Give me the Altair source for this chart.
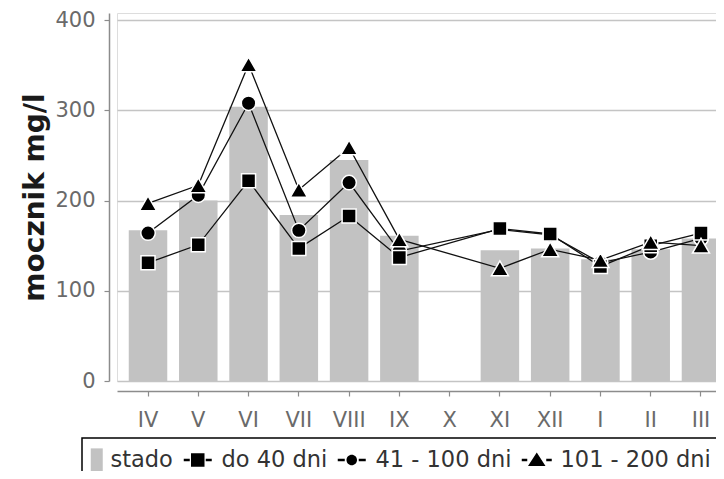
import altair as alt
import pandas as pd

months = ["IV", "V", "VI", "VII", "VIII", "IX", "X", "XI", "XII", "I", "II", "III"]
stado = [167, 200, 304, 184, 245, 161, None, 145, 147, 135, 146, 158]
do_40 = [131, 151, 222, 147, 183, 137, None, 169, 163, 127, 150, 164]
d41_100 = [164, 206, 308, 167, 220, 144, None, 168, 162, 131, 143, 158]
d101_200 = [197, 217, 351, 212, 259, 157, None, 125, 146, 134, 154, 150]
series_names = ["stado", "do 40 dni", "41 - 100 dni", "101 - 200 dni"]
y_ticks = [0, 100, 200, 300, 400]

rows = []
for name, vals in zip(series_names, [stado, do_40, d41_100, d101_200]):
    for m, v in zip(months, vals):
        if v is not None:
            rows.append({"month": m, "series": name, "value": v})
df = pd.DataFrame(rows)

FONT = "DejaVu Sans"

x_enc = alt.X(
    "month:N",
    sort=months,
    scale=alt.Scale(domain=months, range=[0, 615], paddingInner=0.234, paddingOuter=0.234),
    axis=alt.Axis(
        title=None, labelAngle=0, offset=10, domainColor="#8c8c8c", domainWidth=1.5,
        tickColor="#8c8c8c", tickSize=5, tickWidth=1.2, labelFont=FONT, labelFontSize=21,
        labelColor="#6a6a6a", labelPadding=13, grid=False,
    ),
)
y_enc = alt.Y(
    "value:Q",
    scale=alt.Scale(domain=[0, 408], nice=False, zero=True),
    axis=alt.Axis(
        values=y_ticks, title="mocznik mg/l", titleFont=FONT, titleFontSize=28,
        titleFontWeight="bold", titleColor="#1a1a1a", titlePadding=5,
        offset=8, domainColor="#8c8c8c", domainWidth=1.5, tickColor="#8c8c8c",
        tickSize=5, tickWidth=1.2, labelFont=FONT, labelFontSize=21, labelColor="#6a6a6a",
        labelPadding=9, grid=True, gridColor="#c4c4c4", gridWidth=1.5,
    ),
)

base = alt.Chart(df)

bars = base.transform_filter(alt.datum.series == "stado").mark_bar(color="#c2c2c2").encode(x=x_enc, y=y_enc)

lines = base.transform_filter(alt.datum.series != "stado").mark_line(
    color="#111111", strokeWidth=1.3
).encode(x=x_enc, y=y_enc, detail="series:N")

def pts(name, shape, size):
    return base.transform_filter(alt.datum.series == name).mark_point(
        shape=shape, filled=True, fill="black", stroke="white", strokeWidth=1.5,
        size=size, opacity=1,
    ).encode(x=x_enc, y=y_enc)

circles = pts("41 - 100 dni", "circle", 210)
squares = pts("do 40 dni", "square", 196)
triangles = pts("101 - 200 dni", "triangle-up", 290)

legend_paths = [
    "M0.8,-2.3H3.2V2.3H0.8Z",
    "M-2.8,-0.25H-1.6V0.25H-2.8Z M-1.35,-1.35H1.35V1.35H-1.35Z M1.6,-0.25H2.8V0.25H1.6Z",
    "M-2.8,-0.25H-1.4V0.25H-2.8Z M-1.05,0A1.05,1.05 0 1,0 1.05,0A1.05,1.05 0 1,0 -1.05,0Z M1.4,-0.25H2.8V0.25H1.4Z",
    "M-3,-0.25H-1.9V0.25H-3Z M0,-1.5L1.75,1.2H-1.75Z M1.9,-0.25H3V0.25H1.9Z",
]
legend_fills = ["#c2c2c2", "black", "black", "black"]
leg = alt.Legend(
    title=None, orient="none", legendX=-41.5, legendY=435.5, direction="horizontal",
    labelFont=FONT, labelFontSize=22.5, labelColor="#333333", labelOffset=12.5,
    columnPadding=10, symbolSize=100, symbolStrokeWidth=0, padding=0, labelLimit=400,
)
legend_layer = alt.Chart(pd.DataFrame({"lg": series_names})).transform_filter(
    alt.datum.lg == "__none__"
).mark_point(filled=True, opacity=1).encode(
    fill=alt.Fill("lg:N", scale=alt.Scale(domain=series_names, range=legend_fills), legend=leg, sort=series_names),
    shape=alt.Shape("lg:N", scale=alt.Scale(domain=series_names, range=legend_paths), legend=leg, sort=series_names),
)

legend_box = alt.Chart(alt.Data(values=[{}])).mark_rect(
    filled=False, stroke="black", strokeWidth=1.5
).encode(x=alt.value(-35), x2=alt.value(700), y=alt.value(425), y2=alt.value(520))

chart = alt.layer(bars, lines, circles, squares, triangles, legend_layer, legend_box).properties(
    width=600, height=368,
    padding={"left": 109, "top": 5, "right": -1, "bottom": 90},
    autosize=alt.AutoSizeParams(type="none"),
).configure_view(stroke="black", strokeWidth=2).configure(background="white")

chart.save("out.html", embed_options={"renderer": "svg", "actions": False})
